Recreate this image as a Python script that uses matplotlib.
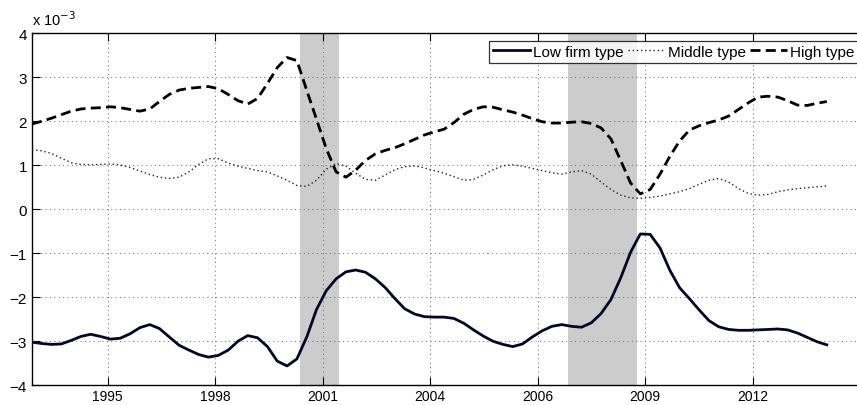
import datetime as dt
import pandas as pd
import matplotlib.pyplot as plt
import matplotlib.dates as mdates

plt.rcParams.update({
    "font.family": ["Liberation Sans", "DejaVu Sans"],
    "font.size": 9,
    "axes.linewidth": 1.0,
})

# quarterly sample, values in units of 1e-3
quarters = pd.date_range("1994-01-01", periods=82, freq="QS")

low_type = [
    -3.02, -3.05, -3.07, -3.06, -2.98, -2.89, -2.84, -2.89, -2.95, -2.93,
    -2.83, -2.69, -2.62, -2.71, -2.90, -3.09, -3.20, -3.30, -3.36, -3.32,
    -3.20, -3.00, -2.87, -2.92, -3.12, -3.45, -3.56, -3.40, -2.90, -2.28,
    -1.85, -1.58, -1.42, -1.38, -1.43, -1.58, -1.78, -2.03, -2.26, -2.38,
    -2.44, -2.45, -2.45, -2.48, -2.59, -2.74, -2.88, -3.00, -3.07, -3.12,
    -3.06, -2.90, -2.76, -2.66, -2.62, -2.66, -2.68, -2.58, -2.37, -2.05,
    -1.55, -0.98, -0.56, -0.57, -0.88, -1.38, -1.78, -2.03, -2.29, -2.53,
    -2.67, -2.73, -2.75, -2.75, -2.74, -2.73, -2.72, -2.74, -2.81, -2.91,
    -3.01, -3.08,
]

middle_type = [
    1.35, 1.33, 1.27, 1.16, 1.06, 1.02, 1.01, 1.02, 1.03, 1.01,
    0.95, 0.87, 0.79, 0.73, 0.70, 0.73, 0.85, 1.02, 1.15, 1.15,
    1.05, 0.98, 0.93, 0.88, 0.85, 0.76, 0.66, 0.54, 0.52, 0.66,
    0.91, 1.04, 0.98, 0.82, 0.68, 0.66, 0.78, 0.90, 0.97, 0.99,
    0.94, 0.88, 0.82, 0.74, 0.66, 0.68, 0.78, 0.90, 0.99, 1.01,
    0.98, 0.93, 0.88, 0.83, 0.80, 0.85, 0.88, 0.80, 0.62, 0.45,
    0.32, 0.26, 0.25, 0.27, 0.30, 0.35, 0.40, 0.47, 0.57, 0.66,
    0.70, 0.62, 0.47, 0.36, 0.32, 0.34, 0.40, 0.44, 0.47, 0.49,
    0.51, 0.53,
]

high_type = [
    1.94, 2.00, 2.07, 2.15, 2.23, 2.28, 2.30, 2.31, 2.33, 2.31,
    2.27, 2.23, 2.28, 2.45, 2.61, 2.71, 2.75, 2.77, 2.79, 2.74,
    2.61, 2.47, 2.39, 2.52, 2.86, 3.22, 3.45, 3.38, 2.70, 2.05,
    1.38, 0.85, 0.73, 0.89, 1.11, 1.26, 1.34, 1.40, 1.49, 1.59,
    1.69, 1.76, 1.82, 1.97, 2.16, 2.27, 2.33, 2.32, 2.26, 2.21,
    2.14, 2.06, 1.99, 1.96, 1.96, 1.98, 1.99, 1.95, 1.85, 1.60,
    1.10, 0.60, 0.35, 0.45, 0.80, 1.20, 1.55, 1.80, 1.90, 1.97,
    2.03, 2.12, 2.27, 2.42, 2.55, 2.57, 2.55, 2.47, 2.37, 2.36,
    2.41, 2.45,
]

recessions = [("2000-11-01", "2001-11-01"), ("2007-09-01", "2009-06-01")]

# date ticks every 1000 days (serial day numbers, Matlab style)
tick_dates = [dt.date.fromordinal(n - 366) for n in range(729000, 736000, 1000)]

fig = plt.figure(figsize=(8.57, 4.06), dpi=100)
ax = fig.add_axes([0.0373, 0.0485, 0.9732, 0.867])

for start, end in recessions:
    ax.axvspan(pd.Timestamp(start), pd.Timestamp(end), color="#cccccc", lw=0, zorder=0)

ax.plot(quarters, low_type, color="#05052a", lw=2.0, label="Low firm type", zorder=3)
ax.plot(quarters, middle_type, color="#222222", lw=1.0, ls=(0, (1, 2.0)),
        label="Middle type", zorder=3)
ax.plot(quarters, high_type, color="black", lw=2.0, ls=(0, (3.6, 1.9)),
        label="High type", zorder=3)

ax.set_xlim(pd.Timestamp("1994-01-01"), pd.Timestamp("2015-04-01"))
ax.set_ylim(-4, 4)
ax.set_xticks(tick_dates)
ax.xaxis.set_major_formatter(mdates.DateFormatter("%Y"))
ax.set_yticks(range(-4, 5))
ax.set_yticklabels([f"{v}".replace("-", "\u2212") for v in range(-4, 5)], fontsize=11)
ax.tick_params(axis="x", labelsize=10, pad=3)
ax.tick_params(direction="in", length=5.5, width=0.8, top=True, right=False)

ax.grid(True, color="#666666", lw=0.7, ls=(0, (1, 3.5)))
ax.set_axisbelow(True)
ax.spines["right"].set_visible(False)

ax.text(0.0, 1.015, r"x 10$^{-3}$", transform=ax.transAxes, fontsize=10.5,
        ha="left", va="bottom")

leg = ax.legend(loc="upper right", ncol=3, fontsize=11, frameon=True, fancybox=False,
                handlelength=2.4, handletextpad=0.2, columnspacing=0.3,
                borderpad=0.25, borderaxespad=0.5)
leg.get_frame().set_edgecolor("black")
leg.get_frame().set_linewidth(0.9)

fig.savefig("out.png", dpi=100)
